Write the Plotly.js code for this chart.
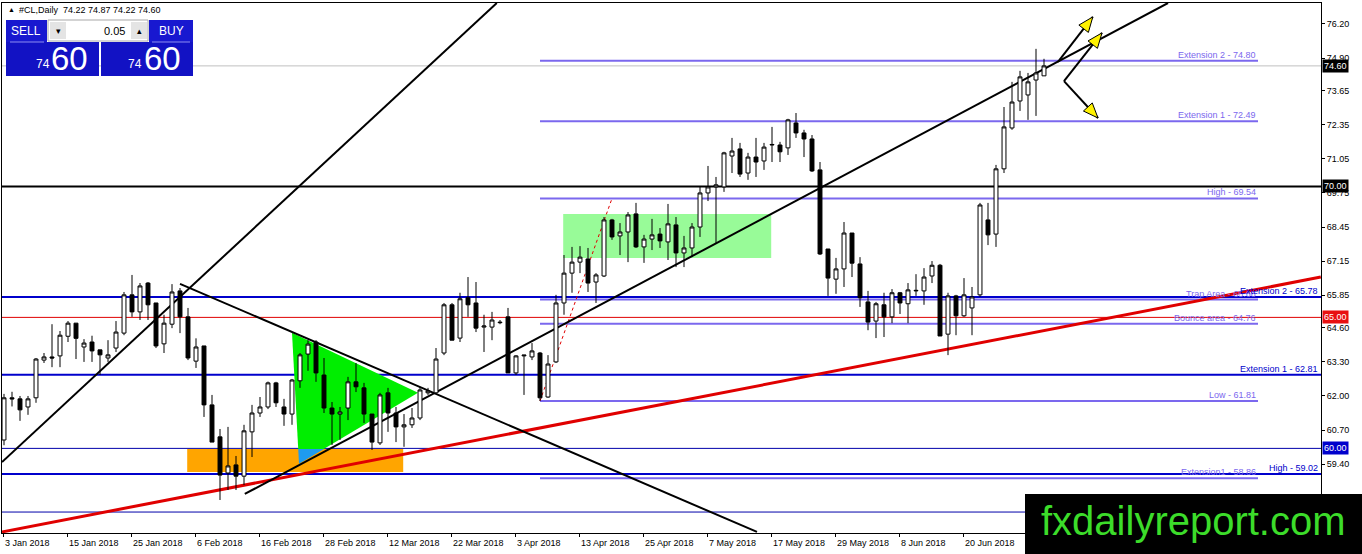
<!DOCTYPE html>
<html><head><meta charset="utf-8">
<script src="https://cdn.plot.ly/plotly-3.0.1.min.js"></script>
<style>html,body{margin:0;padding:0;background:#fff;}#chart{width:1362px;height:554px;}</style>
</head><body><div id="chart"></div>
<script>
// ---- price data (daily bars, #CL) ----
const openP=[60.32,61.93,61.89,61.58,61.93,63.37,63.49,63.53,64.28,64.78,
63.87,64.06,63.76,63.45,63.83,64.40,65.86,65.21,66.31,65.55,
63.99,64.74,66.01,65.02,63.33,63.91,61.66,60.44,59.06,59.37,
58.94,60.63,61.35,61.58,62.50,61.58,61.31,62.58,63.60,64.06,
62.80,61.54,61.31,61.54,62.54,62.31,61.31,60.21,62.12,61.35,
60.82,60.90,61.16,62.12,62.12,63.64,65.48,64.21,65.75,65.55,
64.63,64.63,64.82,65.02,62.88,63.53,63.49,63.64,61.96,63.30,
65.55,66.69,67.11,67.23,66.35,66.58,68.72,68.11,68.26,68.95,
67.69,67.99,68.18,67.88,68.53,67.46,67.65,68.45,69.75,69.98,
69.98,71.16,71.43,70.51,71.12,70.97,71.58,71.58,71.47,72.42,
72.04,71.81,70.63,67.61,66.46,66.85,68.22,67.04,65.59,64.86,
65.48,65.02,65.94,65.52,66.01,66.01,66.58,66.99,64.36,65.82,
65.06,65.36,65.86,68.72,68.18,70.67,72.23,73.26,73.49,74.06,
74.22];
const highP=[62.08,62.16,62.00,62.00,63.45,63.64,64.74,64.48,64.86,64.78,
64.17,64.30,63.76,64.13,64.86,65.97,66.62,66.31,66.35,65.55,
65.10,66.27,66.12,65.36,64.20,63.91,62.04,60.74,60.82,59.71,
60.90,61.66,61.96,62.55,62.54,61.89,62.65,63.64,64.13,64.13,
63.45,61.77,61.58,62.73,63.26,62.50,61.31,62.12,62.31,61.58,
61.31,61.54,62.35,62.31,63.83,65.55,65.55,65.94,66.54,66.35,
65.10,65.21,64.90,65.36,63.56,63.56,64.02,63.68,63.56,65.86,
67.38,67.69,67.72,67.65,66.69,68.83,68.76,68.60,69.02,69.37,
68.15,68.76,68.41,69.33,68.83,68.11,68.60,69.98,70.78,70.36,
71.32,71.85,71.66,71.28,71.85,71.66,72.27,71.70,72.58,72.80,
72.16,71.96,70.93,67.61,67.27,68.64,68.22,67.30,66.01,65.59,
65.94,66.08,65.97,66.31,66.65,66.88,67.15,67.04,65.94,65.86,
66.50,66.16,69.37,69.37,70.82,73.03,73.99,74.41,74.33,75.25,
74.87];
const lowP=[60.12,61.60,61.05,61.28,61.74,63.26,63.10,63.10,64.06,63.41,
63.30,63.30,62.80,63.30,63.68,64.32,65.02,64.90,64.90,63.83,
63.64,64.59,64.40,63.37,63.07,61.20,60.24,58.03,58.41,58.41,
58.60,59.67,61.20,61.50,61.58,60.86,60.90,62.31,62.96,62.54,
61.35,60.13,60.32,61.08,62.15,60.97,59.94,60.13,60.63,60.24,
60.06,60.78,61.08,62.04,62.12,63.56,64.13,64.06,65.02,64.44,
63.68,64.13,64.74,62.88,62.80,62.04,63.37,61.81,61.93,63.26,
65.10,65.94,66.69,65.97,65.55,66.54,67.96,67.38,67.11,67.65,
67.08,67.57,67.65,67.19,66.92,66.92,67.30,68.07,69.44,67.80,
69.79,70.51,70.36,70.25,70.36,70.63,70.93,70.93,71.20,71.85,
71.12,70.55,67.38,65.82,65.90,66.16,66.54,65.40,64.51,64.21,
64.25,64.78,65.13,64.78,65.82,65.48,66.31,64.29,63.56,64.32,
65.02,64.32,65.78,67.76,67.69,70.51,72.16,72.88,72.54,72.69,
74.22];
const closeP=[61.93,61.89,61.47,61.89,63.41,63.49,63.45,64.32,64.78,64.20,
64.02,63.72,63.57,63.57,64.44,65.86,65.21,66.20,65.48,63.91,
64.78,65.97,65.02,63.45,63.87,61.66,60.24,58.98,59.33,58.94,
60.67,61.35,61.58,62.50,61.74,61.31,62.61,63.57,63.98,62.88,
61.54,61.31,61.39,62.54,62.35,61.31,60.24,62.04,61.35,60.82,
60.90,61.16,62.23,62.19,63.41,65.48,64.13,65.71,65.48,64.59,
64.67,64.90,64.80,62.88,63.53,63.56,63.72,61.93,63.22,65.55,
66.69,67.11,67.30,66.31,66.62,68.72,68.07,68.26,68.91,67.69,
67.99,68.15,67.92,68.57,67.46,67.65,68.45,69.75,69.98,70.06,
71.28,71.35,70.47,71.12,70.93,71.50,71.60,71.32,72.54,72.04,
71.81,70.59,67.42,66.50,66.85,68.22,67.07,65.75,64.82,65.52,
65.02,65.94,65.55,66.05,66.03,66.54,66.99,64.29,65.82,65.06,
65.86,65.78,69.29,68.15,70.67,72.27,73.22,74.18,73.99,74.33,
74.60];
const barIndex=openP.map((_,i)=>i);

// ---- axis ticks ----
const xTickIdx=[0,8,16,24,32,40,48,56,64,72,80,88,96,104,112,120];
const xTickLabels=["3 Jan 2018","15 Jan 2018","25 Jan 2018","6 Feb 2018","16 Feb 2018","28 Feb 2018","12 Mar 2018","22 Mar 2018","3 Apr 2018","13 Apr 2018","25 Apr 2018","7 May 2018","17 May 2018","29 May 2018","8 Jun 2018","20 Jun 2018"];
const yTicks=[76.20,74.90,73.65,72.35,71.05,69.75,68.45,67.15,65.85,64.60,63.30,62.00,60.70,59.40,58.10];

// ---- drawn levels ----
const fibLevels=[74.80,72.49,69.54,65.68,64.76,61.81,58.86];
const fibNames=["Extension 2","Extension 1","High","Trap Area","Bounce area","Low","Extension1"];
const fibSpan=[67,156.75];
const blueLevels=[65.78,62.81,59.02];
const blueNames=["Extension 2","Extension 1","High"];
const priceTags=[{v:74.60,bg:"#000000",line:"#C0C0C0",w:1},{v:70.00,bg:"#000000",line:"#000000",w:2},{v:65.00,bg:"#E81010",line:"#E00000",w:1},{v:60.00,bg:"#0000CC",line:"#0000AA",w:1}];
const lowerBlue=57.57;
const trendLines=[[-0.25,59.48,61.6,77.0],[22.0,66.28,94.125,56.81],[30.1,58.26,145.5,77.0]];
const redTrend=[-0.25,56.81,164.6,66.54];
const fibDiag=[67,61.81,76,69.54];
const arrows=[[131.75,74.75,136.1,76.47],[132.5,74.02,137.25,75.86],[132.5,74.02,136.75,72.61]];
const orangeBox=[22.9,59.10,49.9,59.98];
const greenBox=[69.9,67.27,95.9,68.95];
const greenTri=[[36.0,64.41],[36.875,59.41],[51.75,62.12]];
const blueTri=[[36.78,59.98],[40.0,59.98],[36.875,59.41]];

// ---- geometry ----
const W=1362,H=554,ML=2,MR=41,MT=3,MB=21;
const PW=W-ML-MR, PH=H-MT-MB;
const xRange=[-0.25,164.625], yRange=[56.77,77.0];
const pxPerX=PW/(xRange[1]-xRange[0]), pxPerY=PH/(yRange[1]-yRange[0]);
const PX=x=>(x-ML)/PW, PY=y=>(H-MB-y)/PH;
const FONT="Liberation Sans, Arial, sans-serif";

const shapes=[];
const ann=[];
function hline(v,color,w,x0,x1,xref){shapes.push({type:'line',xref:xref||'paper',yref:'y',x0:x0===undefined?0:x0,x1:x1===undefined?1:x1,y0:v,y1:v,line:{color:color,width:w},layer:'below'});}
function seg(p,color,w,dash){shapes.push({type:'line',xref:'x',yref:'y',x0:p[0],y0:p[1],x1:p[2],y1:p[3],line:{color:color,width:w,dash:dash||'solid'},layer:'below'});}
function poly(pts,fill){shapes.push({type:'path',xref:'x',yref:'y',path:'M'+pts.map(p=>p[0]+','+p[1]).join(' L')+' Z',fillcolor:fill,line:{width:0},layer:'below'});}

poly(greenTri,'#00EE00');
shapes.push({type:'rect',xref:'x',yref:'y',x0:orangeBox[0],y0:orangeBox[1],x1:orangeBox[2],y1:orangeBox[3],fillcolor:'#FFA500',line:{width:0},layer:'below'});
poly(blueTri,'#1E9BF0');
shapes.push({type:'rect',xref:'x',yref:'y',x0:greenBox[0],y0:greenBox[1],x1:greenBox[2],y1:greenBox[3],fillcolor:'#98FB98',line:{width:0},layer:'below'});

priceTags.forEach(t=>hline(t.v,t.line,t.w));
hline(lowerBlue,'#0000AA',1);
blueLevels.forEach(v=>hline(v,'#0000CC',2));
fibLevels.forEach(v=>hline(v,'#7B68EE',2,fibSpan[0],fibSpan[1],'x'));
seg(fibDiag,'#E00000',1,'dot');
seg(redTrend,'#E00000',3);
trendLines.forEach(p=>seg(p,'#000000',2));
arrows.forEach(a=>{
  seg(a,'#000000',2);
  const vx=(a[2]-a[0])*pxPerX, vy=-(a[3]-a[1])*pxPerY;
  const L=Math.hypot(vx,vy), ux=vx/L, uy=vy/L;
  const bx=-15*ux, by=-15*uy, qx=-uy*6, qy=ux*6;
  const pts=[[0,0],[bx+qx,by+qy],[bx-qx,by-qy]].map(p=>[a[2]+p[0]/pxPerX,a[3]-p[1]/pxPerY]);
  shapes.push({type:'path',xref:'x',yref:'y',path:'M'+pts.map(p=>p[0]+','+p[1]).join(' L')+' Z',fillcolor:'#FFF200',line:{color:'#000',width:1},layer:'below'});
});

// labels on levels
fibLevels.forEach((v,i)=>ann.push({x:fibSpan[1],y:v,xref:'x',yref:'y',xanchor:'right',yanchor:'bottom',yshift:-1,showarrow:false,text:fibNames[i]+' - '+v.toFixed(2),font:{family:FONT,size:9,color:'#7B68EE'}}));
blueLevels.forEach((v,i)=>ann.push({x:1,y:v,xref:'paper',yref:'y',xanchor:'right',yanchor:'bottom',xshift:-1,yshift:-1,showarrow:false,text:blueNames[i]+' - '+v.toFixed(2),font:{family:FONT,size:9,color:'#0000CC'}}));
priceTags.forEach(t=>ann.push({x:1,y:t.v,xref:'paper',yref:'y',xanchor:'left',yanchor:'middle',xshift:1,showarrow:false,text:t.v.toFixed(2),bgcolor:t.bg,borderpad:1,font:{family:FONT,size:9,color:'#FFFFFF'}}));
// x labels (MT4 draws them left-aligned at the tick)
xTickIdx.forEach((ix,i)=>ann.push({x:ix-0.125,y:0,xref:'x',yref:'paper',xanchor:'left',yanchor:'top',yshift:-3,showarrow:false,text:xTickLabels[i],font:{family:FONT,size:9,color:'#000'}}));

// header and trade panel
ann.push({x:PX(6),y:PY(10),xref:'paper',yref:'paper',xanchor:'left',yanchor:'middle',showarrow:false,text:'▲',font:{family:FONT,size:7,color:'#000'}});
ann.push({x:PX(17),y:PY(10),xref:'paper',yref:'paper',xanchor:'left',yanchor:'middle',showarrow:false,text:'#CL,Daily  74.22 74.87 74.22 74.60',font:{family:FONT,size:9,color:'#000'}});
function prect(x0,y0,x1,y1,fill,lc){shapes.push({type:'rect',xref:'paper',yref:'paper',x0:PX(x0),x1:PX(x1),y0:PY(y1),y1:PY(y0),fillcolor:fill,line:{width:lc?1:0,color:lc||fill},layer:'above'});}
prect(6,20,47,42,'#1818D0');
prect(149,20,193,42,'#1818D0');
prect(6,42,99,76,'#1212C4');
prect(101,42,193,76,'#1212C4');
prect(48,20,148,41,'#FFFFFF','#A8A8A8');
prect(50,22,66,39,'#E4E4E4');
prect(131,22,147,39,'#E4E4E4');
shapes.push({type:'line',xref:'paper',yref:'paper',x0:PX(10),x1:PX(44),y0:PY(42),y1:PY(42),line:{color:'#8C8CF0',width:1},layer:'above'});
shapes.push({type:'line',xref:'paper',yref:'paper',x0:PX(152),x1:PX(190),y0:PY(42),y1:PY(42),line:{color:'#8C8CF0',width:1},layer:'above'});
function ptxt(x,y,t,size,color,anchor){ann.push({x:PX(x),y:PY(y),xref:'paper',yref:'paper',xanchor:anchor||'center',yanchor:'middle',showarrow:false,text:t,font:{family:FONT,size:size,color:color}});}
ptxt(26,31,'SELL',12,'#FFFFFF');
ptxt(171,31,'BUY',12,'#FFFFFF');
ptxt(58,31,'▾',9,'#000');
ptxt(139,31,'▴',9,'#000');
ptxt(127,31,'0.05',11,'#000','right');
ptxt(43,64,'74',12,'#FFFFFF');
ptxt(69,59,'60',33,'#FFFFFF');
ptxt(135,64,'74',12,'#FFFFFF');
ptxt(162,59,'60',33,'#FFFFFF');
// watermark
prect(1025,494,1362,554,'#000000');
ptxt(1193,521,'fxdailyreport.com',40,'#3CDC2A');

const trace={type:'candlestick',x:barIndex,open:openP,high:highP,low:lowP,close:closeP,
  increasing:{line:{color:'#000',width:1},fillcolor:'#FFFFFF'},
  decreasing:{line:{color:'#000',width:1},fillcolor:'#000000'},
  whiskerwidth:0,hoverinfo:'skip',showlegend:false};

const layout={width:W,height:H,margin:{l:ML,r:MR,t:MT,b:MB,pad:0},
  paper_bgcolor:'#FFFFFF',plot_bgcolor:'#FFFFFF',showlegend:false,
  font:{family:FONT,size:9,color:'#000'},
  xaxis:{range:xRange,showgrid:false,zeroline:false,showline:true,mirror:true,linecolor:'#000',linewidth:1,
    tickvals:xTickIdx.map(i=>i-0.125),ticks:'outside',ticklen:3,tickcolor:'#000',showticklabels:false,
    rangeslider:{visible:false},fixedrange:true},
  yaxis:{range:yRange,side:'right',showgrid:false,zeroline:false,showline:true,mirror:true,linecolor:'#000',linewidth:1,
    tickvals:yTicks,ticktext:yTicks.map(v=>v.toFixed(2)),ticks:'outside',ticklen:3,tickcolor:'#000',
    tickfont:{family:FONT,size:9,color:'#000'},fixedrange:true},
  shapes:shapes,annotations:ann};
Plotly.newPlot('chart',[trace],layout,{staticPlot:true,displayModeBar:false});
</script></body></html>
